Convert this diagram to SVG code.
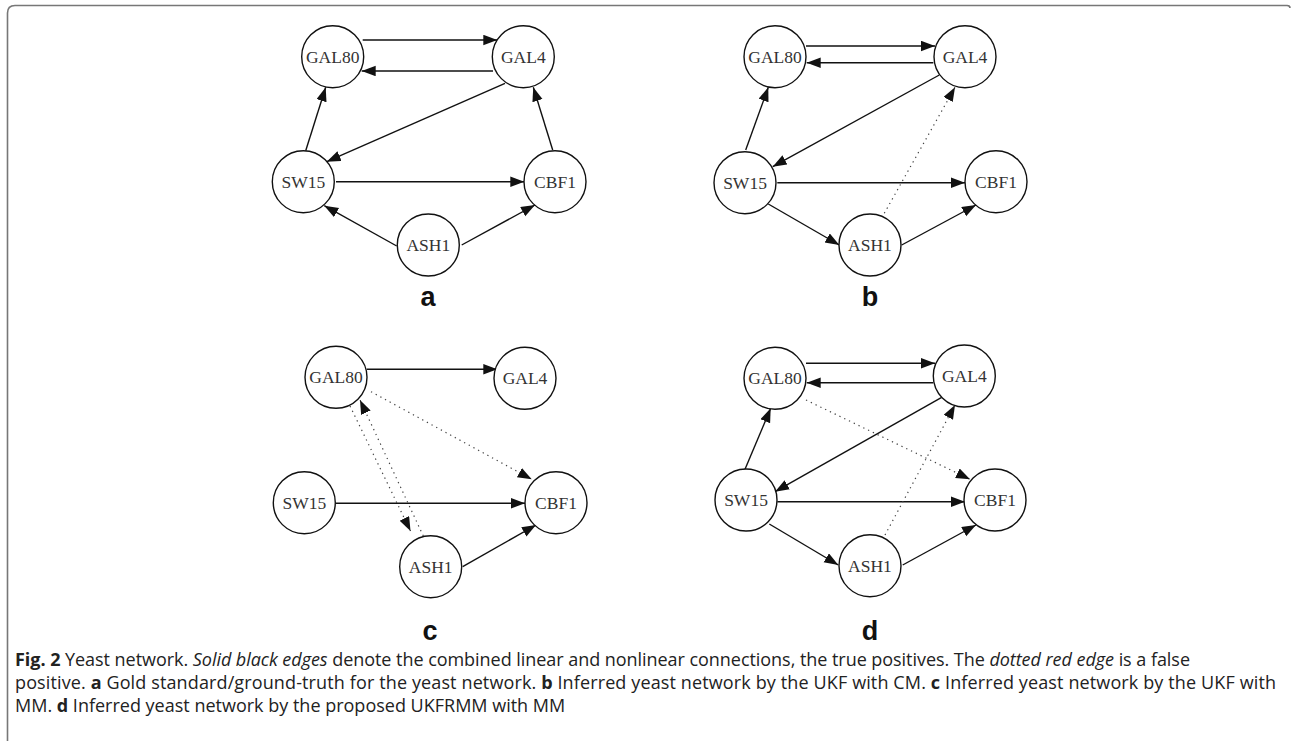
<svg xmlns="http://www.w3.org/2000/svg" width="1292" height="741" viewBox="0 0 1292 741">
<defs>
<marker id="ah" markerUnits="userSpaceOnUse" markerWidth="15" markerHeight="12" refX="14" refY="5.25" orient="auto">
<path d="M0,0 L14,5.25 L0,10.5 z" fill="#111"/>
</marker>
<style>
.nd circle{fill:#fff;stroke:#111;stroke-width:1.4}
.nd text{font-family:"Liberation Serif","DejaVu Serif",serif;font-size:17.5px;fill:#333;text-anchor:middle}
.e{stroke:#111;stroke-width:1.4;fill:none;marker-end:url(#ah)}
.d{stroke:#444;stroke-width:1.2;fill:none;stroke-dasharray:1.3,4;marker-end:url(#ah)}
.lbl{font-family:"Liberation Sans",Arial,sans-serif;font-weight:bold;font-size:27px;fill:#111;text-anchor:middle}
.cap{font-family:"Open Sans","Liberation Sans",sans-serif;font-size:18px;fill:#222}
</style>
</defs>
<rect width="1292" height="741" fill="#fff"/>
<path d="M7.5,741 V13 Q7.5,5.5 15,5.5 H1287 Q1290,5.5 1290,8" fill="none" stroke="#777" stroke-width="1.6"/>

<g id="connectors">
<!-- a -->
<line class="e" x1="362.7" y1="40" x2="497.3" y2="40"/>
<line class="e" x1="493" y1="71" x2="361.7" y2="71"/>
<line class="e" x1="505" y1="83.3" x2="326.7" y2="161.7"/>
<line class="e" x1="305.7" y1="150.7" x2="325.7" y2="87.3"/>
<line class="e" x1="552.7" y1="150" x2="533.3" y2="87.3"/>
<line class="e" x1="336" y1="181.7" x2="524.3" y2="181.7"/>
<line class="e" x1="396.7" y1="246" x2="324.3" y2="205.7"/>
<line class="e" x1="461.7" y1="245" x2="535" y2="205"/>
<!-- b -->
<line class="e" x1="806" y1="46" x2="935" y2="46"/>
<line class="e" x1="933.3" y1="62.7" x2="806.7" y2="62.7"/>
<line class="e" x1="939.3" y1="75" x2="772.7" y2="166.7"/>
<line class="e" x1="745.7" y1="150" x2="768.3" y2="87.3"/>
<line class="e" x1="777.3" y1="182.7" x2="965" y2="182.7"/>
<line class="e" x1="768.3" y1="204" x2="839.3" y2="245"/>
<line class="e" x1="901.7" y1="245" x2="976" y2="205"/>
<line class="d" x1="884.3" y1="213.3" x2="955" y2="87.3"/>
<!-- c -->
<line class="e" x1="366.7" y1="369.3" x2="497.3" y2="369.3"/>
<line class="d" x1="371" y1="391.7" x2="531.7" y2="479.3"/>
<line class="d" x1="350" y1="406" x2="410.5" y2="531"/>
<line class="d" x1="423.3" y1="536" x2="360" y2="400"/>
<line class="e" x1="336" y1="503.3" x2="525" y2="503.3"/>
<line class="e" x1="462.7" y1="566.7" x2="536" y2="525"/>
<!-- d -->
<line class="e" x1="806" y1="363.3" x2="935" y2="363.3"/>
<line class="e" x1="933.3" y1="382.7" x2="806.7" y2="382.7"/>
<line class="e" x1="941.7" y1="397.3" x2="775" y2="491.7"/>
<line class="e" x1="745" y1="469.3" x2="770.7" y2="408.3"/>
<line class="e" x1="777.3" y1="501.7" x2="965" y2="501.7"/>
<line class="e" x1="769.3" y1="524" x2="838.3" y2="565"/>
<line class="e" x1="902.7" y1="565" x2="976" y2="525"/>
<line class="d" x1="885" y1="535" x2="955" y2="405"/>
<line class="d" x1="806" y1="400" x2="970" y2="479.3"/>
</g>

<g id="a-GAL80" class="nd"><circle cx="332.7" cy="56.7" r="31"/><text x="332.7" y="62.7">GAL80</text></g>
<g id="a-GAL4" class="nd"><circle cx="523.3" cy="56.7" r="31"/><text x="523.3" y="62.7">GAL4</text></g>
<g id="a-SW15" class="nd"><circle cx="303.3" cy="181.7" r="31"/><text x="303.3" y="187.7">SW15</text></g>
<g id="a-CBF1" class="nd"><circle cx="555" cy="181.7" r="31"/><text x="555" y="187.7">CBF1</text></g>
<g id="a-ASH1" class="nd"><circle cx="428.3" cy="245" r="31"/><text x="428.3" y="251">ASH1</text></g>

<g id="b-GAL80" class="nd"><circle cx="775" cy="56.7" r="31"/><text x="775" y="62.7">GAL80</text></g>
<g id="b-GAL4" class="nd"><circle cx="965" cy="56.7" r="31"/><text x="965" y="62.7">GAL4</text></g>
<g id="b-SW15" class="nd"><circle cx="745" cy="182.7" r="31"/><text x="745" y="188.7">SW15</text></g>
<g id="b-CBF1" class="nd"><circle cx="996" cy="181.7" r="31"/><text x="996" y="187.7">CBF1</text></g>
<g id="b-ASH1" class="nd"><circle cx="870" cy="245" r="31"/><text x="870" y="251">ASH1</text></g>

<g id="c-GAL80" class="nd"><circle cx="336" cy="377.3" r="31"/><text x="336" y="383.3">GAL80</text></g>
<g id="c-GAL4" class="nd"><circle cx="525" cy="378.3" r="31"/><text x="525" y="384.3">GAL4</text></g>
<g id="c-SW15" class="nd"><circle cx="304.3" cy="502.7" r="31"/><text x="304.3" y="508.7">SW15</text></g>
<g id="c-CBF1" class="nd"><circle cx="556" cy="502.7" r="31"/><text x="556" y="508.7">CBF1</text></g>
<g id="c-ASH1" class="nd"><circle cx="430.7" cy="566.7" r="31"/><text x="430.7" y="572.7">ASH1</text></g>

<g id="d-GAL80" class="nd"><circle cx="775" cy="378.3" r="31"/><text x="775" y="384.3">GAL80</text></g>
<g id="d-GAL4" class="nd"><circle cx="964.3" cy="376" r="31"/><text x="964.3" y="382">GAL4</text></g>
<g id="d-SW15" class="nd"><circle cx="746" cy="500" r="31"/><text x="746" y="506">SW15</text></g>
<g id="d-CBF1" class="nd"><circle cx="995" cy="500" r="31"/><text x="995" y="506">CBF1</text></g>
<g id="d-ASH1" class="nd"><circle cx="870" cy="565.7" r="31"/><text x="870" y="571.7">ASH1</text></g>

<g id="labels">
<text class="lbl" x="428" y="306">a</text>
<text class="lbl" x="870" y="306">b</text>
<text class="lbl" x="430" y="640">c</text>
<text class="lbl" x="870" y="640">d</text>
</g>

<g id="caption" class="cap">
<text x="15" y="666" textLength="1175" lengthAdjust="spacing"><tspan font-weight="bold">Fig. 2</tspan> Yeast network. <tspan font-style="italic">Solid black edges</tspan> denote the combined linear and nonlinear connections, the true positives. The <tspan font-style="italic">dotted red edge</tspan> is a false</text>
<text x="15" y="689" textLength="1261" lengthAdjust="spacing">positive. <tspan font-weight="bold">a</tspan> Gold standard/ground-truth for the yeast network. <tspan font-weight="bold">b</tspan> Inferred yeast network by the UKF with CM. <tspan font-weight="bold">c</tspan> Inferred yeast network by the UKF with</text>
<text x="15" y="712">MM. <tspan font-weight="bold">d</tspan> Inferred yeast network by the proposed UKFRMM with MM</text>
</g>
</svg>
